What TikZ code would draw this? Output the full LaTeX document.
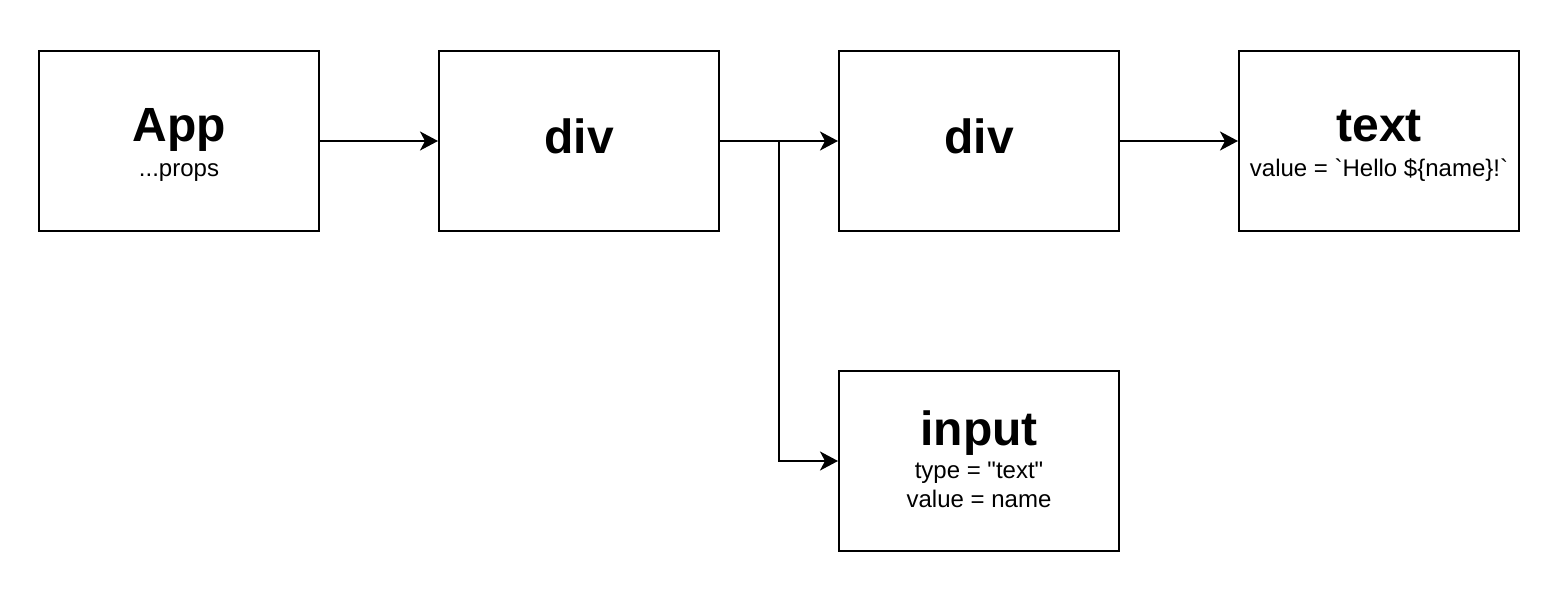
\documentclass[tikz,border=0pt]{standalone}
\usepackage{fontspec}
\setmainfont{Liberation Sans}[Ligatures=TeXOff]
\usetikzlibrary{arrows.meta}
\begin{document}
\begin{tikzpicture}[x=1pt,y=-1pt,
  elem/.style={draw=black,line width=2pt,fill=white,minimum width=280pt,minimum height=180pt,inner sep=0pt},
  title/.style={font=\fontsize{48}{56}\selectfont\bfseries,anchor=base,inner sep=0pt},
  attr/.style={font=\fontsize{24}{28}\selectfont,anchor=base,inner sep=0pt},
  link/.style={line width=2pt,-{Stealth[length=18pt,width=19pt,inset=5pt]}}]
  \useasboundingbox (0,0) rectangle (1563,593);

  % component boxes
  \node[elem] (app) at (179,141) {};
  \node[elem] (div1) at (579,141) {};
  \node[elem] (div2) at (979,141) {};
  \node[elem] (txt) at (1379,141) {};
  \node[elem] (inp) at (979,461) {};

  % labels
  \node[title] (appT) at (179,142) {App};
  \node[attr] (appA) at (179,177) {...props};
  \node[title] (div1T) at (579,154) {div};
  \node[title] (div2T) at (979,154) {div};
  \node[title] (txtT) at (1379,142) {text};
  \node[attr] (txtA) at (1379,177) {value = `Hello \$\{name\}!{}`};
  \node[title] (inpT) at (979,445) {input};
  \node[attr] (inpA) at (979,478) {type = "text"};
  \node[attr] (inpB) at (979,507) {value = name};

  % connectors
  \coordinate (fork) at (779,141);
  \draw[link] (app.east) -- (div1.west);
  \draw[link] (div1.east) -- (div2.west);
  \draw[link] (fork) |- (inp.west);
  \draw[link] (div2.east) -- (txt.west);
\end{tikzpicture}
\end{document}
